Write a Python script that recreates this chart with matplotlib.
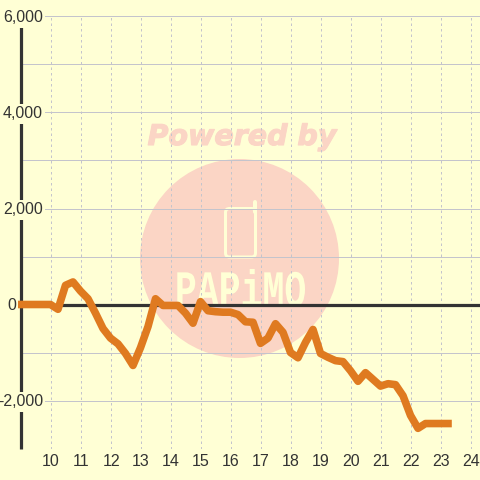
import matplotlib
matplotlib.use("Agg")
import matplotlib.pyplot as plt
from matplotlib.patches import Circle, FancyBboxPatch
from matplotlib.lines import Line2D
from matplotlib.transforms import IdentityTransform, blended_transform_factory, Affine2D
import matplotlib.patheffects as pe

plt.rcParams['font.family'] = ['Liberation Sans', 'DejaVu Sans']

hours = [9, 9.25, 9.5, 9.75, 10, 10.25, 10.5, 10.75, 11, 11.25, 11.5, 11.75, 12, 12.25, 12.5, 12.75,
         13, 13.25, 13.5, 13.75, 14, 14.25, 14.5, 14.75, 15, 15.25, 15.5, 15.75, 16, 16.25, 16.5, 16.75,
         17, 17.25, 17.5, 17.75, 18, 18.25, 18.5, 18.75, 19, 19.25, 19.5, 19.75, 20, 20.25, 20.5, 20.75,
         21, 21.25, 21.5, 21.75, 22, 22.25, 22.5, 22.75, 23, 23.25]
profit = [0, 0, 0, 0, 0, -100, 400, 470, 280, 120, -180, -500, -700, -820, -1020, -1270,
          -900, -460, 120, -20, -20, -20, -180, -390, 60, -130, -150, -160, -160, -210, -360, -370,
          -810, -700, -400, -580, -1000, -1110, -790, -520, -1020, -1100, -1170, -1190, -1380, -1600, -1420, -1560,
          -1700, -1650, -1670, -1900, -2310, -2580, -2480, -2480, -2480, -2480]
x_ticks = list(range(10, 25))
y_grid = [-3000, -2000, -1000, 0, 1000, 2000, 3000, 4000, 5000, 6000]
y_labelled = [6000, 4000, 2000, 0, -2000]
y_label_text = ['6,000', '4,000', '2,000', '0', '-2,000']

BG = '#FFFFD5'
GRID = '#C4C4CC'
DARK = '#333333'
ORANGE = '#DF7A20'
MARK = '#FBD5C5'
PX = 72 / 100

fig = plt.figure(figsize=(4.8, 4.8), dpi=100, facecolor=BG)
ax = fig.add_axes([20.5 / 480, 31.5 / 480, 459.5 / 480, 432 / 480], facecolor=BG)
ax.set_xlim(9, 9 + 459.5 / 30)
ax.set_ylim(-3000, 6000)

# watermark (pixel coordinates, y down)
T = IdentityTransform()
def py(v):
    return 480 - v
ax.add_patch(Circle((239.5, py(258.5)), 99.5, transform=T, fc=MARK, ec='none', zorder=0.1, clip_on=False))
ax.add_patch(FancyBboxPatch((225.5, py(257)), 30, 48.5, boxstyle='round,pad=0,rounding_size=4', transform=T,
                            fc='none', ec=BG, lw=3 * PX, zorder=0.2))
ax.add_line(Line2D([254.5, 254.5], [py(212), py(201.5)], transform=T, color=BG, lw=4 * PX,
                   solid_capstyle='round', zorder=0.2))
ax.text(242, py(145), 'Powered by', transform=T, family='DejaVu Sans', weight='bold', style='italic',
        fontsize=28.5 * PX, color=MARK, ha='center', va='baseline', zorder=0.2,
        path_effects=[pe.withStroke(linewidth=0.8, foreground=MARK)])


class Stretch(pe.AbstractPathEffect):
    def __init__(self, sy, base):
        super().__init__()
        self.sy, self.base = sy, base

    def draw_path(self, renderer, gc, tpath, affine, rgbFace=None):
        a = affine + Affine2D().translate(0, -self.base).scale(1, self.sy).translate(0, self.base)
        renderer.draw_path(gc, tpath, a, rgbFace)


ax.text(240.5, py(306), 'PAPiMO', transform=T, family='Liberation Mono', weight='bold', fontsize=36.5 * PX,
        color=BG, ha='center', va='baseline', zorder=0.2, path_effects=[Stretch(1.4, py(306))])

# grid
ax.set_axisbelow(True)
ax.set_yticks(y_grid)
ax.set_xticks(x_ticks)
ax.grid(axis='y', color=GRID, lw=1 * PX, zorder=1)
ax.grid(axis='x', color=GRID, lw=1 * PX, ls=(0, (2.5, 3)), zorder=1)
ax.tick_params(length=0, labelleft=False, labelbottom=False)
for s in ['top', 'right', 'bottom']:
    ax.spines[s].set_visible(False)
ax.spines['left'].set_color(DARK)
ax.spines['left'].set_linewidth(3.2 * PX)
ax.spines['left'].set_capstyle('butt')
ax.axhline(0, color=DARK, lw=3.2 * PX, zorder=2)

ax.plot(hours, profit, color=ORANGE, lw=7.6 * PX, solid_joinstyle='round', solid_capstyle='projecting',
        clip_on=False, zorder=3)

# labels
yt = blended_transform_factory(T, ax.transData)
for v, s in zip(y_labelled, y_label_text):
    right = 16 if v == 0 else 43
    ax.text(right, v, s, transform=yt, ha='right', va='center_baseline', fontsize=16 * PX, color=DARK,
            zorder=5, clip_on=False, bbox=dict(fc=BG, ec='none', pad=1.5))
xt = blended_transform_factory(ax.transData, T)
for v in x_ticks:
    ax.text(v + 0.02, py(461), str(v), transform=xt, ha='center', va='center', fontsize=16 * PX, color=DARK,
            zorder=5, clip_on=False)

fig.savefig('out.png', dpi=100, facecolor=BG)
